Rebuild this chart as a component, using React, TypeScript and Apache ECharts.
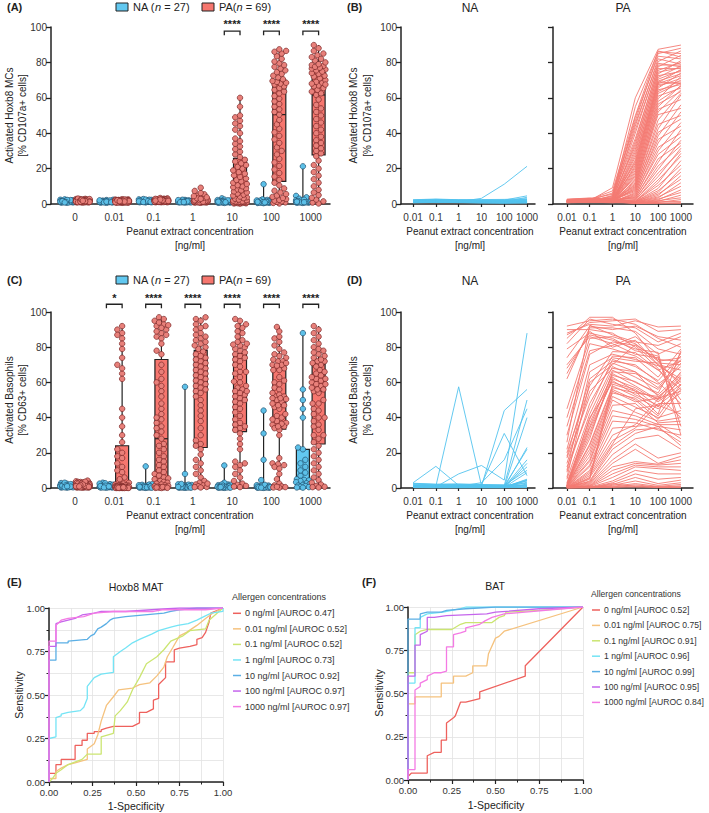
import React, { useEffect, useRef } from 'react';
import * as echarts from 'echarts';

const FONT = '"Liberation Sans", Arial, Helvetica, sans-serif';
const CONC_LABELS = ['0', '0.01', '0.1', '1', '10', '100', '1000'];
const LINE_LOGX = [-2, -1, 0, 1, 2, 3];
const NA_LEGEND = '{r|NA (}{i|n}{r| = 27)}';
const PA_LEGEND = '{r|PA(}{i|n}{r| = 69)}';
const MAT_YTITLE = ['Activated Hoxb8 MCs', '[% CD107a+ cells]'];
const BAT_YTITLE = ['Activated Basophils', '[% CD63+ cells]'];
const X_TITLE = ['Peanut extract concentration', '[ng/ml]'];
const SIG_A = ['', '', '', '', '****', '****', '****'];
const SIG_C = ['', '*', '****', '****', '****', '****', '****'];

// ---- Hoxb8 MAT, non-allergic (n = 27), per concentration (subject order)
const MAT_NA_0 = [1.2,1.8,0.9,2.1,1.5,1.1,2.4,1.7,0.8,1.3,2.0,1.6,1.0,2.6,1.4,1.9,0.7,1.2,2.2,1.5,1.0,1.8,1.3,2.3,1.1,1.6,0.9];
const MAT_NA_001 = [1.4,1.6,1.1,1.9,1.2,0.9,2.2,1.5,0.7,1.0,1.8,1.3,1.2,2.4,1.6,1.7,0.8,1.0,2.0,1.4,1.1,1.5,1.2,2.1,0.9,1.3,1.0];
const MAT_NA_01 = [1.6,2.0,1.2,2.3,1.5,1.0,2.6,1.8,0.9,1.3,2.2,1.7,1.4,2.8,1.9,2.1,1.0,1.2,2.4,1.6,1.3,1.9,1.5,2.5,1.1,1.7,1.2];
const MAT_NA_1 = [1.3,1.7,1.0,2.0,1.4,0.9,2.3,1.6,0.8,1.1,1.9,1.5,1.2,2.4,1.6,1.8,0.9,1.0,2.1,1.4,1.2,1.6,1.3,2.2,1.0,1.5,1.1];
const MAT_NA_10 = [3.2,1.5,0.9,1.8,1.3,0.8,2.2,1.4,0.6,1.0,1.7,1.3,1.1,2.5,1.5,1.6,0.7,0.9,2.0,1.2,1.0,1.4,1.2,2.1,0.9,1.3,1.0];
const MAT_NA_100 = [11.2,2.2,0.8,1.9,1.2,0.7,2.3,1.3,0.5,0.9,1.6,1.2,1.0,2.6,1.4,1.5,0.6,0.8,1.9,1.1,0.9,1.3,1.1,2.0,0.8,1.2,0.9];
const MAT_NA_1000 = [21.3,4.6,1.0,2.2,1.3,0.8,2.6,1.5,0.6,1.0,1.8,1.3,1.1,3.0,1.5,1.7,0.7,0.9,2.1,1.2,1.0,3.8,1.2,2.4,0.9,1.3,1.0];

// ---- Hoxb8 MAT, peanut-allergic (n = 69)
const MAT_PA_0 = [1.5,2.1,1.2,2.6,1.8,0.9,2.3,1.6,1.1,2.8,1.4,1.9,2.2,1.0,1.7,2.5,1.3,2.0,1.6,0.8,2.4,1.5,1.8,2.9,1.2,2.1,1.4,1.7,2.3,1.0,1.9,2.6,1.3,1.5,2.0,1.1,2.2,1.8,1.6,2.7,1.4,0.9,2.1,1.7,1.3,2.4,1.9,1.2,2.0,1.5,3.1,1.6,1.1,2.3,1.8,1.4,2.5,1.0,1.7,2.2,1.3,1.9,2.8,1.5,1.2,2.0,1.6,2.4,1.8];
const MAT_PA_001 = [1.3,1.8,1.0,2.3,1.6,0.8,2.0,1.4,1.2,2.5,1.1,1.7,2.0,0.9,1.5,2.2,1.2,1.8,1.4,0.7,2.1,1.3,1.6,2.6,1.0,1.9,1.2,1.5,2.0,0.9,1.7,2.3,1.1,1.4,1.8,1.0,1.9,1.6,1.3,2.4,1.2,0.8,1.8,1.5,1.1,2.1,1.7,1.0,1.8,1.3,2.7,1.4,0.9,2.0,1.6,1.2,2.2,0.9,1.5,1.9,1.1,1.7,2.5,1.3,1.0,1.8,1.4,2.1,1.6];
const MAT_PA_01 = [1.7,2.2,1.3,2.7,1.9,1.0,2.4,1.8,1.4,3.0,1.5,2.0,2.4,1.2,1.8,2.6,1.4,2.1,1.7,1.0,2.5,1.6,1.9,3.2,1.3,2.2,1.5,1.8,2.4,1.1,2.0,2.7,1.4,1.7,2.1,1.2,2.3,1.9,1.7,2.8,1.5,1.0,2.2,1.8,1.4,2.5,2.0,1.3,2.1,1.6,3.4,1.7,1.2,2.4,1.9,1.5,2.6,1.1,1.8,2.3,1.4,2.0,2.9,1.6,1.3,2.1,1.7,2.5,1.9];
const MAT_PA_1 = [1.4,2.0,1.1,2.5,1.7,0.8,2.2,1.5,1.0,2.7,1.3,1.8,2.1,0.9,1.6,2.4,1.2,1.9,1.5,0.7,2.3,1.4,1.7,2.8,1.1,2.0,1.3,1.6,2.2,1.0,1.8,2.5,1.2,1.4,1.9,1.0,2.1,1.7,1.5,2.6,1.3,0.9,2.0,1.6,1.2,2.3,1.8,1.1,1.9,1.4,3.0,1.5,1.0,2.2,1.7,1.3,2.4,3.5,4.2,2.1,4.8,3.2,5.5,2.9,3.8,6.2,4.5,7.4,9.2];
const MAT_PA_10 = [0.3,0.2,0.5,0.4,0.7,0.6,0.9,0.8,1.0,1.1,1.0,1.3,1.2,1.4,1.3,1.6,1.5,1.4,2.2,1.9,2.9,2.5,3.8,3.3,4.8,4.2,5.9,5.3,7.1,6.5,8.3,7.7,9.5,8.9,10.0,11.3,10.6,12.8,12.0,14.4,13.6,16.2,15.3,18.0,17.1,20.0,19.0,22.0,21.0,24.0,23.0,25.0,28.0,26.5,31.0,29.5,34.0,32.5,37.0,35.5,42.0,40.0,45.5,44.0,49.0,47.0,55.0,50.0,60.0];
const MAT_PA_100 = [0.3,0.6,0.9,1.2,1.5,1.9,2.3,2.8,3.4,4.0,4.8,5.6,6.5,7.5,8.8,10.5,12.0,13.6,15.5,17.5,19.5,21.5,23.5,25.5,28.0,30.0,32.0,34.5,36.5,38.5,40.5,42.5,45.0,47.5,50.5,52,53.5,55,56.5,58,59.5,61,62.5,63.5,64.5,65.5,66.5,67.5,68,68.5,69,69.5,70.5,71.5,72.5,73.5,74.5,75.5,76.5,77.5,78.5,79.5,80.5,82,83.5,85,86,86.5,87.4];
const MAT_PA_1000 = [0.8,0.3,2.5,1.5,5,3.5,8,6.5,12,10,16,14,20,18,24.5,22,28.6,27,31.5,30,36,33,42,34.5,38,46,40,52,44,56,48,61.6,50,62.5,54,64.5,59,67,63.5,66.5,72,65.5,68.5,70,67.5,74,71,69,72.5,76,68,73.5,75.5,78,74.8,81,77,80,76.5,84,78.5,77.5,86.5,79,82,88,85,83,89.8];

// ---- Basophil activation, non-allergic (n = 27)
const BAT_NA_0 = [1.2,0.5,2.1,0.8,1.6,0.3,2.8,1.0,0.6,1.9,0.4,1.4,2.4,0.7,1.1,0.2,1.7,0.9,2.2,0.5,1.3,0.8,3.0,0.6,1.5,0.4,1.0];
const BAT_NA_001 = [3.0,0.6,0.9,0.4,0.7,0.3,2.2,0.8,0.5,1.6,0.3,1.2,2.5,0.6,1.0,0.2,1.5,0.7,1.9,0.4,1.1,0.6,2.7,0.5,1.3,0.3,0.9];
const BAT_NA_01 = [12.3,1.0,0.6,0.3,0.5,0.4,1.8,0.6,0.4,1.3,0.2,0.9,2.0,0.5,0.8,0.1,1.2,0.6,1.6,0.3,0.9,0.4,2.2,0.4,1.0,0.2,0.7];
const BAT_NA_1 = [1.5,57.5,8.0,0.5,1.0,0.6,1.9,0.7,0.3,1.4,0.2,1.0,2.1,0.4,0.8,0.1,1.2,0.5,1.7,0.3,0.9,0.5,2.3,0.4,1.1,0.2,0.6];
const BAT_NA_10 = [1.0,1.5,12.8,2.0,3.0,1.0,1.6,0.6,0.3,1.2,0.2,0.8,1.8,0.4,0.7,0.1,1.0,0.5,1.5,0.3,0.8,0.4,2.0,0.3,0.9,0.2,0.5];
const BAT_NA_100 = [0.5,0.5,4.5,31.0,16.0,44.0,1.4,0.5,0.3,1.1,0.2,0.7,1.6,0.4,0.6,0.1,0.9,0.4,1.3,0.2,0.7,0.3,1.8,0.3,0.8,0.2,0.5];
const BAT_NA_1000 = [16.0,5.0,88.0,7.0,45.0,56.0,50.0,40.0,23.0,22.0,14.0,12.0,10.0,8.7,4.6,4.3,4.0,3.3,2.7,2.2,1.8,1.4,1.1,0.7,0.5,0.3,0.2];

// ---- Basophil activation, peanut-allergic (n = 69)
const BAT_PA_0 = [1.2,0.5,2.4,0.8,3.1,1.6,0.3,2.0,1.0,3.8,0.6,1.8,2.7,0.4,1.4,2.2,0.9,3.4,1.1,0.2,2.6,1.5,0.7,1.9,3.0,0.5,1.3,2.3,0.8,4.2,1.7,0.4,2.1,1.0,2.8,0.6,1.6,3.5,0.3,1.2,2.4,0.9,1.8,0.5,2.9,1.4,0.7,2.0,1.1,3.2,0.6,1.5,2.5,0.4,1.9,0.8,2.2,1.3,0.3,2.6,1.0,1.7,0.5,3.6,1.2,0.7,2.0,1.6,0.9];
const BAT_PA_001 = [92,88,85,90,82,79,74,70,87,65,62,68, 45,40,35,30,26,22,18,14,10,6, 20,17,12,9,5,3,2.5,2,1.6,1.4,1.2,1.0,0.9,0.8, 1.5,1.3,1.1,0.9,0.7,0.6,0.5,0.4,0.3,0.3,0.2,0.2,0.1,0.1,0.0,0.0, 0.8,0.6,0.4,0.3,0.2,0.1,0.5,0.7,0.0,0.2, 0.0,0.1,0.3,0.2,0.0,0.1,0.4];
const BAT_PA_01 = [95,93,97,90,96,88,92,86,94,89,91,87, 85,82,78,76,92.5,70,62,55,66,60, 58,52,45,48,42,39,35,37,32,30,28,34,40,25, 24,22,20,18,16,15,13,12,10,9,8,7,6,5.5,5,4, 3.5,3.0,2.5,2.0,1.5,1.2,1.0,0.8,0.5,0.3, 0.2,0.1,0.4,0.0,0.6,0.1,0.3];
const BAT_PA_1 = [96,92,97,88,93,85,90,82,95,80,91,84, 86,79,81,83,87,76,72,68,74,70, 77.5,75,73,71,69,67,65,64,62,63,66,61,60,58, 57,55,54,52,50,47,44,41,38,34,30,27,25,59,56,24, 22,19,16,14,12,10,8,6,4,3, 2.0,1.5,1.0,0.6,0.3,2.5,0.5];
const BAT_PA_10 = [93,95,88,80,91,78,92,76,96,84,89,79, 82,75,86,81,83,73,70,66,72,81.5, 77,74,69,66,63,60,58,60.5,57,55,65,53,56,52, 54,49,51,46,43,48,41,39,37,35,36,34,45,55,50,33, 31,28,25,22,15,14,13,12,10,8, 6,4,2.5,1.8,1.2,0.8,0.5];
const BAT_PA_100 = [85,91.5,72,68,83,75,86,74,89,70,79,77, 72,67,76,70,81,69.5,60,52,71,73, 67,63,61,57,56,54,50,53,49,51,59,47,46,45, 52,51,41,40,38,37,36,35,33,36.5,50.5,48,47,42,39,34, 35,30,17,14,13.5,13,12,11,8,5, 2.5,1.5,0.9,0.5,0.2,0.3,0.7];
const BAT_PA_1000 = [80,92,58,50,88,35,84,45,90,60,76,30, 74,56,82,67,86,62,48,40,70,72, 72,79,75,73,71,77,61,65,59,55,69,57,63,54, 62,64,59,44,40,38,36,33,30,28,66,48,42,78,56,26, 24,22,20,18,16,14,12,10,8,6, 4.5,3,2,1.2,0.7,0.3,0.5];

// ---- ROC curves [1-specificity, sensitivity]
const ROC_NAMES_E = ['0 ng/ml [AUROC 0.47]', '0.01 ng/ml [AUROC 0.52]', '0.1 ng/ml [AUROC 0.52]', '1 ng/ml [AUROC 0.73]', '10 ng/ml [AUROC 0.92]', '100 ng/ml [AUROC 0.97]', '1000 ng/ml [AUROC 0.97]'];
const ROC_NAMES_F = ['0 ng/ml [AUROC 0.52]', '0.01 ng/ml [AUROC 0.75]', '0.1 ng/ml [AUROC 0.91]', '1 ng/ml [AUROC 0.96]', '10 ng/ml [AUROC 0.99]', '100 ng/ml [AUROC 0.95]', '1000 ng/ml [AUROC 0.84]'];
const ROC_E_0 = [[0,0],[0,0.05],[0.04,0.05],[0.04,0.1],[0.07,0.1],[0.07,0.13],[0.15,0.13],[0.15,0.21],[0.19,0.21],[0.19,0.24],[0.22,0.24],[0.22,0.28],[0.26,0.28],[0.26,0.29],[0.3,0.29],[0.3,0.3],[0.33,0.31],[0.37,0.32],[0.48,0.32],[0.5,0.33],[0.52,0.34],[0.52,0.4],[0.56,0.4],[0.6,0.42],[0.6,0.47],[0.63,0.48],[0.63,0.56],[0.67,0.6],[0.67,0.69],[0.72,0.69],[0.72,0.76],[0.75,0.77],[0.81,0.78],[0.85,0.79],[0.85,0.82],[0.88,0.83],[0.9,0.86],[0.92,0.92],[0.93,0.97],[1,1]];
const ROC_E_001 = [[0,0],[0,0.02],[0.04,0.02],[0.04,0.06],[0.07,0.08],[0.11,0.1],[0.15,0.11],[0.22,0.13],[0.22,0.19],[0.26,0.22],[0.28,0.27],[0.3,0.35],[0.33,0.44],[0.37,0.49],[0.4,0.53],[0.48,0.54],[0.52,0.56],[0.58,0.57],[0.62,0.61],[0.66,0.66],[0.68,0.72],[0.71,0.77],[0.75,0.84],[0.79,0.86],[0.85,0.9],[0.9,0.94],[0.94,0.97],[1,1]];
const ROC_E_01 = [[0,0],[0.02,0.02],[0.04,0.05],[0.07,0.07],[0.11,0.1],[0.19,0.13],[0.22,0.16],[0.3,0.16],[0.3,0.26],[0.37,0.28],[0.38,0.38],[0.41,0.41],[0.45,0.46],[0.48,0.53],[0.52,0.6],[0.56,0.68],[0.62,0.72],[0.66,0.76],[0.7,0.81],[0.77,0.84],[0.81,0.87],[0.9,0.88],[0.92,0.93],[1,1]];
const ROC_E_1 = [[0,0],[0,0.25],[0.04,0.26],[0.04,0.37],[0.07,0.38],[0.07,0.39],[0.11,0.4],[0.18,0.41],[0.2,0.43],[0.22,0.48],[0.22,0.55],[0.26,0.6],[0.3,0.62],[0.37,0.63],[0.37,0.72],[0.41,0.75],[0.44,0.77],[0.48,0.8],[0.52,0.82],[0.59,0.85],[0.63,0.87],[0.7,0.89],[0.74,0.9],[0.8,0.91],[0.85,0.93],[0.89,0.95],[0.93,0.97],[1,0.98],[1,1]];
const ROC_E_10 = [[0,0],[0,0.7],[0.04,0.7],[0.04,0.8],[0.11,0.8],[0.11,0.81],[0.22,0.82],[0.24,0.84],[0.26,0.85],[0.28,0.88],[0.3,0.89],[0.33,0.91],[0.35,0.93],[0.37,0.94],[0.44,0.95],[0.55,0.96],[0.66,0.97],[0.7,0.98],[0.75,0.99],[0.85,1],[1,1]];
const ROC_E_100 = [[0,0],[0,0.7],[0,0.78],[0.04,0.78],[0.04,0.91],[0.07,0.92],[0.11,0.93],[0.15,0.94],[0.19,0.96],[0.26,0.97],[0.3,0.98],[0.44,0.98],[0.59,0.99],[0.75,1],[1,1]];
const ROC_E_1000 = [[0,0],[0,0.77],[0,0.81],[0.04,0.81],[0.04,0.9],[0.07,0.93],[0.11,0.94],[0.2,0.95],[0.26,0.97],[0.37,0.98],[0.6,0.98],[0.65,0.99],[0.9,0.99],[1,1]];
const ROC_F_0 = [[0,0],[0,0.02],[0.02,0.04],[0.11,0.04],[0.11,0.14],[0.15,0.16],[0.19,0.16],[0.19,0.23],[0.22,0.23],[0.22,0.33],[0.26,0.36],[0.27,0.37],[0.3,0.45],[0.33,0.45],[0.37,0.46],[0.41,0.47],[0.41,0.51],[0.67,0.6],[0.67,0.66],[1,1]];
const ROC_F_001 = [[0,0],[0,0.44],[0.04,0.44],[0.04,0.48],[0.19,0.48],[0.19,0.56],[0.26,0.56],[0.26,0.6],[0.33,0.6],[0.37,0.62],[0.37,0.66],[0.45,0.66],[0.46,0.73],[0.5,0.82],[0.52,0.83],[0.55,0.86],[1,1]];
const ROC_F_01 = [[0,0],[0,0.62],[0.04,0.62],[0.04,0.78],[0.04,0.84],[0.07,0.86],[0.11,0.87],[0.25,0.87],[0.3,0.9],[0.33,0.91],[0.48,0.91],[0.52,0.94],[0.55,0.95],[0.56,0.97],[0.75,0.98],[1,1]];
const ROC_F_1 = [[0,0],[0,0.56],[0.04,0.56],[0.04,0.88],[0.07,0.88],[0.07,0.94],[0.11,0.96],[0.2,0.97],[0.3,0.99],[0.33,1],[1,1]];
const ROC_F_10 = [[0,0],[0,0.93],[0.07,0.93],[0.07,0.96],[0.11,0.97],[0.19,0.97],[0.22,0.98],[0.33,0.99],[0.5,1],[1,1]];
const ROC_F_100 = [[0,0],[0,0.6],[0.04,0.6],[0.04,0.78],[0.07,0.78],[0.07,0.84],[0.11,0.86],[0.11,0.94],[0.15,0.94],[0.22,0.95],[0.45,0.96],[0.5,0.97],[0.75,0.99],[1,1]];
const ROC_F_1000 = [[0,0],[0,0.06],[0.04,0.06],[0.04,0.52],[0.07,0.54],[0.07,0.56],[0.11,0.58],[0.11,0.6],[0.15,0.62],[0.19,0.62],[0.22,0.63],[0.22,0.77],[0.26,0.77],[0.26,0.84],[0.3,0.85],[0.33,0.86],[0.33,0.88],[0.41,0.9],[0.44,0.92],[0.48,0.94],[0.55,0.96],[1,1]];

const MAT_NA = [MAT_NA_0, MAT_NA_001, MAT_NA_01, MAT_NA_1, MAT_NA_10, MAT_NA_100, MAT_NA_1000];
const MAT_PA = [MAT_PA_0, MAT_PA_001, MAT_PA_01, MAT_PA_1, MAT_PA_10, MAT_PA_100, MAT_PA_1000];
const BAT_NA = [BAT_NA_0, BAT_NA_001, BAT_NA_01, BAT_NA_1, BAT_NA_10, BAT_NA_100, BAT_NA_1000];
const BAT_PA = [BAT_PA_0, BAT_PA_001, BAT_PA_01, BAT_PA_1, BAT_PA_10, BAT_PA_100, BAT_PA_1000];
const ROC_E = [ROC_E_0, ROC_E_001, ROC_E_01, ROC_E_1, ROC_E_10, ROC_E_100, ROC_E_1000];
const ROC_F = [ROC_F_0, ROC_F_001, ROC_F_01, ROC_F_1, ROC_F_10, ROC_F_100, ROC_F_1000];

// ---- styling
const NA_FILL = '#62C8F0';
const PA_FILL = '#F6766E';
const NA_DOT = '#5CC0E8';
const NA_EDGE = '#1F4E6B';
const PA_DOT = '#E8807A';
const PA_EDGE = '#7A2525';
const NA_LINE = '#52C3EE';
const PA_LINE = '#F47B73';
const ROC_COLORS = ['#EE615D', '#F5C27E', '#CBE571', '#74E4F5', '#5BAFE5', '#C565EC', '#F47AE4'];
const INK = '#222';

const GRIDS = [
  { left: 51, top: 27, width: 279, height: 177 },
  { left: 401, top: 27, width: 134, height: 177 },
  { left: 553, top: 27, width: 140, height: 177 },
  { left: 51, top: 312, width: 279, height: 176 },
  { left: 401, top: 312, width: 134, height: 176 },
  { left: 553, top: 312, width: 140, height: 176 },
  { left: 49, top: 608, width: 174, height: 174 },
  { left: 408, top: 607, width: 175, height: 173 },
];
const CAT_MIN = -0.61;
const CAT_MAX = 6.49;
const GROUP_OFF = 0.2;

function quart(arr: number[]) {
  const s = [...arr].sort((a, b) => a - b);
  const n = s.length;
  const q = (p: number) => {
    const pos = p * (n + 1);
    if (pos <= 1) return s[0];
    if (pos >= n) return s[n - 1];
    const lo = Math.floor(pos);
    const f = pos - lo;
    return s[lo - 1] + f * (s[lo] - s[lo - 1]);
  };
  return [s[0], q(0.25), q(0.5), q(0.75), s[n - 1]];
}

function swarm(values: number[], center: number, xScale: number, yScale: number) {
  const idx = values.map((_, i) => i).sort((a, b) => values[a] - values[b]);
  const placed: number[][] = [];
  const res: number[] = new Array(values.length);
  const cands = [0, -2.4, 2.4, -4.8, 4.8, -1.2, 1.2, -3.6, 3.6, -6, 6, -6.8, 6.8];
  const d = 5;
  for (const i of idx) {
    const py = values[i] * yScale;
    let best = 0;
    let bestD = -1;
    for (const c of cands) {
      let md = Infinity;
      for (const p of placed) {
        const dy = p[1] - py;
        if (Math.abs(dy) < d) {
          const dd = Math.hypot(p[0] - c, dy);
          if (dd < md) md = dd;
        }
      }
      if (md >= d) { best = c; bestD = Infinity; break; }
      if (md > bestD) { bestD = md; best = c; }
    }
    placed.push([best, py]);
    res[i] = center + best / xScale;
  }
  return res;
}

function boxPanel(na: number[][], pa: number[][], gridIdx: number) {
  const g = GRIDS[gridIdx];
  const xs = g.width / (CAT_MAX - CAT_MIN);
  const ys = g.height / 100;
  const boxesNA: number[][] = [];
  const boxesPA: number[][] = [];
  const dotsNA: number[][] = [];
  const dotsPA: number[][] = [];
  for (let k = 0; k < na.length; k++) {
    boxesNA.push([k - GROUP_OFF, ...quart(na[k])]);
    boxesPA.push([k + GROUP_OFF, ...quart(pa[k])]);
    const xn = swarm(na[k], k - GROUP_OFF, xs, ys);
    na[k].forEach((v, i) => dotsNA.push([xn[i], v]));
    const xp = swarm(pa[k], k + GROUP_OFF, xs, ys);
    pa[k].forEach((v, i) => dotsPA.push([xp[i], v]));
  }
  return { boxesNA, boxesPA, dotsNA, dotsPA };
}

const boxRender = (params: any, api: any) => {
  const x = api.value(0);
  const c = [1, 2, 3, 4, 5].map((i) => api.coord([x, api.value(i)]));
  const hw = 6.5;
  const color = api.visual('color');
  const ls = { stroke: INK, lineWidth: 1.2 };
  return {
    type: 'group',
    children: [
      { type: 'line', shape: { x1: c[0][0], y1: c[0][1], x2: c[1][0], y2: c[1][1] }, style: ls },
      { type: 'line', shape: { x1: c[3][0], y1: c[3][1], x2: c[4][0], y2: c[4][1] }, style: ls },
      { type: 'rect', shape: { x: c[1][0] - hw, y: c[3][1], width: 2 * hw, height: Math.max(c[1][1] - c[3][1], 0.6) }, style: { fill: color, stroke: INK, lineWidth: 1.2 } },
      { type: 'line', shape: { x1: c[2][0] - hw, y1: c[2][1], x2: c[2][0] + hw, y2: c[2][1] }, style: ls },
    ],
  };
};

function bracketSeries(sig: string[], gi: number, yText: number, yBar: number, yEnd: number) {
  const data: number[][] = [];
  const texts: string[] = [];
  sig.forEach((s, k) => { if (s) { data.push([k, yBar]); texts.push(s); } });
  return {
    type: 'custom', xAxisIndex: gi, yAxisIndex: gi, clip: false, silent: true, z: 5,
    data,
    renderItem: (params: any, api: any) => {
      const k = api.value(0);
      const a = api.coord([k - GROUP_OFF, yBar]);
      const b = api.coord([k + GROUP_OFF, yBar]);
      const e = api.coord([k, yEnd]);
      const t = api.coord([k, yText]);
      return {
        type: 'group',
        children: [
          { type: 'polyline', shape: { points: [[a[0], e[1]], [a[0], a[1]], [b[0], b[1]], [b[0], e[1]]] }, style: { stroke: INK, lineWidth: 1.3, fill: 'none' } },
          { type: 'text', style: { text: texts[params.dataIndex], x: t[0], y: t[1], align: 'center', verticalAlign: 'middle', fontSize: 11, fontWeight: 'bold', fontFamily: FONT, fill: INK } },
        ],
      };
    },
  };
}

const axisLine = { show: true, onZero: false, lineStyle: { color: INK, width: 1.5 } };
const labelBase = { color: '#333', fontSize: 10, fontFamily: FONT };

function yPct(gi: number, showLabel: boolean) {
  return {
    type: 'value', gridIndex: gi, min: 0, max: 100, interval: 20,
    axisLine, axisTick: { show: true, length: 5, lineStyle: { color: INK, width: 1.3 } },
    axisLabel: { ...labelBase, show: showLabel, margin: 4 },
    splitLine: { show: false },
  };
}
function xCat(gi: number) {
  return {
    type: 'value', gridIndex: gi, min: CAT_MIN, max: CAT_MAX,
    axisLine, axisTick: { show: false },
    axisLabel: { ...labelBase, margin: 8, customValues: [0, 1, 2, 3, 4, 5, 6], formatter: (v: number) => CONC_LABELS[Math.round(v)] },
    splitLine: { show: false },
  };
}
function xLog(gi: number, min: number, max: number) {
  return {
    type: 'value', gridIndex: gi, min, max,
    axisLine, axisTick: { show: true, length: 3, customValues: LINE_LOGX, lineStyle: { color: INK, width: 1.2 } },
    axisLabel: { ...labelBase, margin: 8, customValues: LINE_LOGX, formatter: (v: number) => CONC_LABELS[Math.round(v) + 3] },
    splitLine: { show: false },
  };
}
function rocAxis(gi: number, isY: boolean) {
  return {
    type: 'value', gridIndex: gi, min: 0, max: 1, interval: 0.25,
    axisLine, axisTick: { show: true, length: 4, lineStyle: { color: INK, width: 1.2 } },
    minorTick: { show: true, splitNumber: 2, length: 2.5, lineStyle: { color: INK, width: 1 } },
    axisLabel: { color: '#333', fontSize: 9.5, fontFamily: FONT, margin: isY ? 4 : 5, formatter: (v: number) => v.toFixed(2) },
    splitLine: { show: true, lineStyle: { color: '#e2e2e2', width: 0.8 } },
    minorSplitLine: { show: true, lineStyle: { color: '#e2e2e2', width: 0.8 } },
  };
}

function txt(x: number, y: number, text: string, o: any = {}) {
  return {
    type: 'text', x, y, rotation: o.rot || 0, silent: true, z: 10,
    style: {
      text, fill: o.color || INK, fontFamily: FONT, fontSize: o.size || 10,
      fontWeight: o.bold ? 'bold' : 'normal', align: o.align || 'center', verticalAlign: 'middle',
      rich: o.rich,
    },
  };
}

function buildOption() {
  const A = boxPanel(MAT_NA, MAT_PA, 0);
  const C = boxPanel(BAT_NA, BAT_PA, 3);
  const series: any[] = [];

  const addBoxPanel = (P: any, gi: number) => {
    series.push({ type: 'custom', xAxisIndex: gi, yAxisIndex: gi, data: P.boxesNA, renderItem: boxRender, itemStyle: { color: NA_FILL }, z: 2, silent: true, clip: false });
    series.push({ type: 'custom', xAxisIndex: gi, yAxisIndex: gi, data: P.boxesPA, renderItem: boxRender, itemStyle: { color: PA_FILL }, z: 2, silent: true, clip: false });
    series.push({ type: 'scatter', xAxisIndex: gi, yAxisIndex: gi, data: P.dotsNA, symbolSize: 5.5, clip: false, silent: true, z: 3, itemStyle: { color: NA_DOT, borderColor: NA_EDGE, borderWidth: 0.7, opacity: 1 } });
    series.push({ type: 'scatter', xAxisIndex: gi, yAxisIndex: gi, data: P.dotsPA, symbolSize: 5.5, clip: false, silent: true, z: 3, itemStyle: { color: PA_DOT, borderColor: PA_EDGE, borderWidth: 0.7, opacity: 1 } });
  };
  addBoxPanel(A, 0);
  addBoxPanel(C, 3);
  series.push(bracketSeries(SIG_A, 0, 101.7, 97.7, 95.4));
  series.push(bracketSeries(SIG_C, 3, 108, 104.4, 102.1));

  const addLines = (sets: number[][], gi: number, color: string) => {
    const n = sets[0].length;
    for (let s = 0; s < n; s++) {
      series.push({
        type: 'line', xAxisIndex: gi, yAxisIndex: gi, silent: true, symbol: 'none', z: 2,
        data: LINE_LOGX.map((lx, j) => [lx, sets[j + 1][s]]),
        lineStyle: { color, width: 0.9 },
      });
    }
  };
  addLines(MAT_NA, 1, NA_LINE);
  addLines(MAT_PA, 2, PA_LINE);
  addLines(BAT_NA, 4, NA_LINE);
  addLines(BAT_PA, 5, PA_LINE);

  ROC_E.forEach((d, i) => series.push({ type: 'line', name: ROC_NAMES_E[i], xAxisIndex: 6, yAxisIndex: 6, data: d, symbol: 'none', silent: true, z: 3, lineStyle: { color: ROC_COLORS[i], width: 1.3 } }));
  ROC_F.forEach((d, i) => series.push({ type: 'line', name: ROC_NAMES_F[i], xAxisIndex: 7, yAxisIndex: 7, data: d, symbol: 'none', silent: true, z: 3, lineStyle: { color: ROC_COLORS[i], width: 1.3 } }));

  const rich = { r: { fontSize: 11, fontFamily: FONT, fill: INK }, i: { fontSize: 11, fontFamily: FONT, fontStyle: 'italic', fill: INK } };
  const graphic: any[] = [];
  // panel letters
  [['(A)', 7, 7], ['(B)', 347, 7], ['(C)', 7, 280], ['(D)', 347, 280], ['(E)', 7, 582], ['(F)', 362, 582]].forEach((p: any) =>
    graphic.push(txt(p[1], p[2], p[0], { bold: true, size: 11, align: 'left' })));
  // box legends
  [7, 280].forEach((y) => {
    graphic.push({ type: 'rect', silent: true, shape: { x: 116, y: y - 4, width: 12, height: 8 }, style: { fill: NA_FILL, stroke: INK, lineWidth: 1 } });
    graphic.push(txt(133, y, NA_LEGEND, { align: 'left', rich }));
    graphic.push({ type: 'rect', silent: true, shape: { x: 202, y: y - 4, width: 12, height: 8 }, style: { fill: PA_FILL, stroke: INK, lineWidth: 1 } });
    graphic.push(txt(219, y, PA_LEGEND, { align: 'left', rich }));
  });
  // sub-titles
  [[470, 8], [623, 8], [470, 281], [623, 281]].forEach((p, i) => graphic.push(txt(p[0], p[1], i % 2 === 0 ? 'NA' : 'PA', { size: 12 })));
  // y-axis titles
  const yt = (x1: number, x2: number, yc: number, t: string[]) => {
    graphic.push(txt(x1, yc, t[0], { rot: Math.PI / 2 }));
    graphic.push(txt(x2, yc, t[1], { rot: Math.PI / 2 }));
  };
  yt(9, 22, 115.5, MAT_YTITLE);
  yt(353, 367, 115.5, MAT_YTITLE);
  yt(9, 22, 400, BAT_YTITLE);
  yt(353, 367, 400, BAT_YTITLE);
  // x-axis titles
  [[190, 231], [470, 231], [623, 231], [190, 515], [470, 515], [623, 515]].forEach((p) => {
    graphic.push(txt(p[0], p[1], X_TITLE[0]));
    graphic.push(txt(p[0], p[1] + 14.5, X_TITLE[1]));
  });
  // ROC texts
  graphic.push(txt(136, 587, 'Hoxb8 MAT', { size: 10.5 }));
  graphic.push(txt(495, 586, 'BAT', { size: 10.5 }));
  graphic.push(txt(136, 806, '1-Specificity', { size: 10.5 }));
  graphic.push(txt(496, 805, '1-Specificity', { size: 10.5 }));
  graphic.push(txt(19, 695, 'Sensitivity', { size: 10.5, rot: Math.PI / 2 }));
  graphic.push(txt(379, 693, 'Sensitivity', { size: 10.5, rot: Math.PI / 2 }));
  const rocLegend = (x: number, yHead: number, y0: number, step: number, names: string[], fs: number) => {
    graphic.push(txt(x, yHead, 'Allergen concentrations', { size: fs, align: 'left', color: '#333' }));
    names.forEach((nm, i) => {
      const y = y0 + i * step;
      graphic.push({ type: 'line', silent: true, shape: { x1: x + 1, y1: y, x2: x + 9, y2: y }, style: { stroke: ROC_COLORS[i], lineWidth: 1.5 } });
      graphic.push(txt(x + 13, y, nm, { size: fs, align: 'left', color: '#333' }));
    });
  };
  rocLegend(232, 597, 613.3, 15.55, ROC_NAMES_E, 9);
  rocLegend(591, 593.5, 610, 15.4, ROC_NAMES_F, 8.6);

  return {
    animation: false,
    backgroundColor: '#fff',
    grid: GRIDS,
    xAxis: [xCat(0), xLog(1, -2.53, 3.35), xLog(2, -2.61, 3.53), xCat(3), xLog(4, -2.53, 3.35), xLog(5, -2.61, 3.53), rocAxis(6, false), rocAxis(7, false)],
    yAxis: [yPct(0, true), yPct(1, true), yPct(2, false), yPct(3, true), yPct(4, true), yPct(5, false), rocAxis(6, true), rocAxis(7, true)],
    series,
    graphic,
  };
}

export default function App() {
  const ref = useRef<HTMLDivElement>(null);
  useEffect(() => {
    if (!ref.current) return;
    const chart = echarts.init(ref.current, undefined, { renderer: 'svg' });
    chart.setOption(buildOption() as any);
    return () => chart.dispose();
  }, []);
  return <div ref={ref} style={{ position: 'absolute', left: 0, top: 0, width: 709, height: 813, background: '#fff' }} />;
}
